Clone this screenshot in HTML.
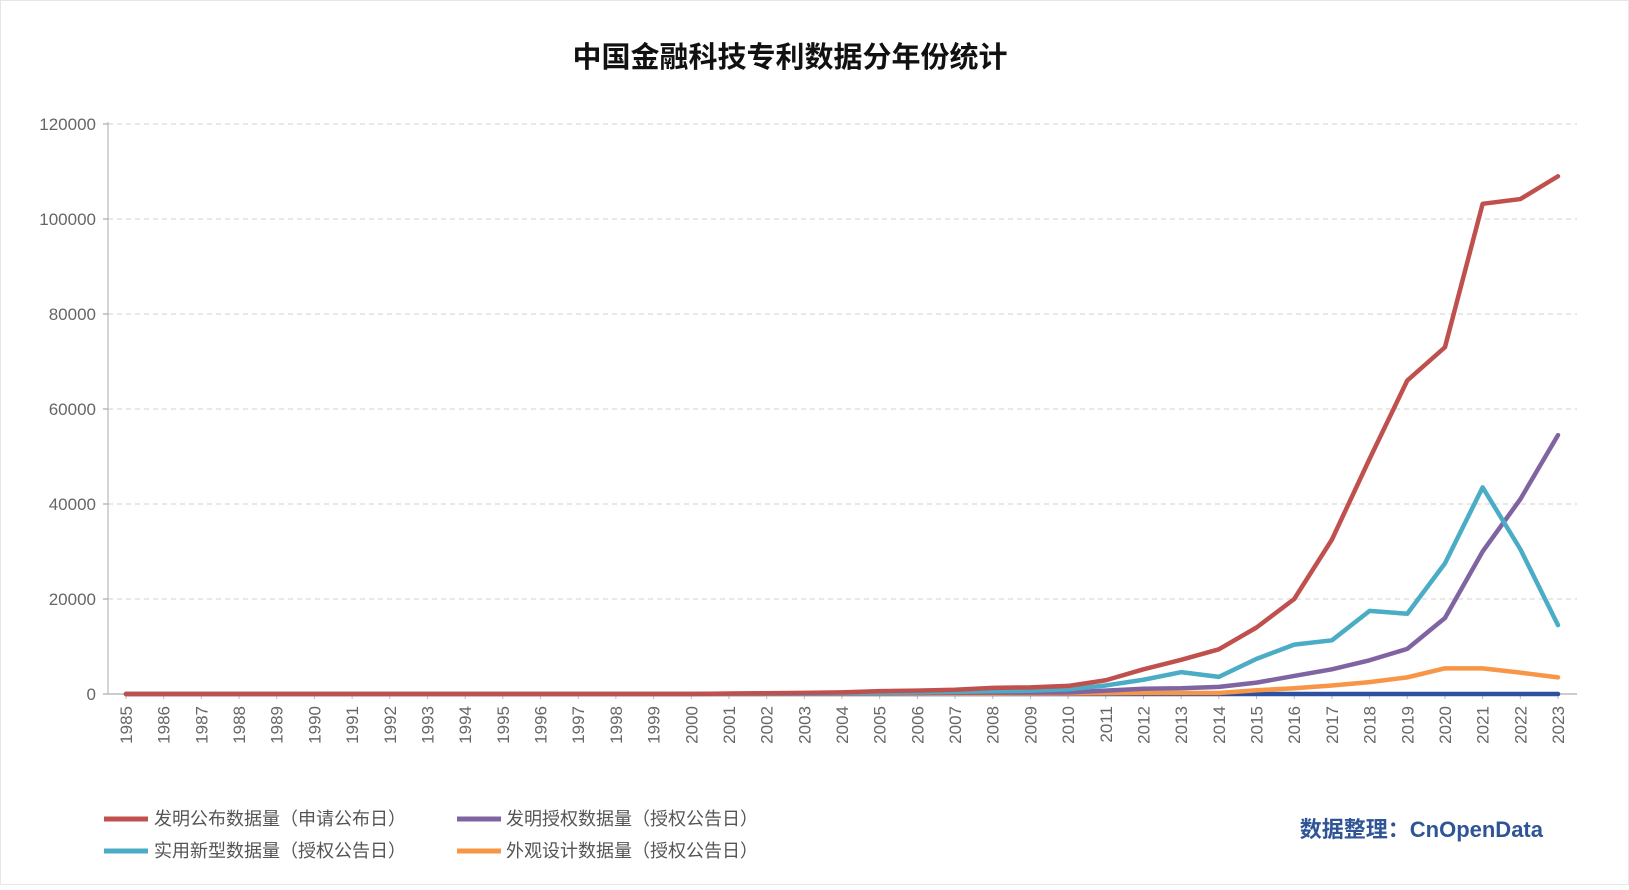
<!DOCTYPE html>
<html><head><meta charset="utf-8"><style>
html,body{margin:0;padding:0;background:#fff;}
body{width:1629px;height:885px;overflow:hidden;font-family:"Liberation Sans","Noto Sans CJK SC",sans-serif;}
svg text{font-family:"Liberation Sans","Noto Sans CJK SC",sans-serif;}
</style></head><body>
<svg id="chart" width="1629" height="885" xmlns="http://www.w3.org/2000/svg">
<rect x="0.5" y="0.5" width="1628" height="884" fill="#fff" stroke="#e6e6e6"/>
<text x="790" y="67" text-anchor="middle" font-size="29" font-weight="bold" fill="#111">中国金融科技专利数据分年份统计</text>
<g id="grid"></g><g id="axes"></g><g id="series"></g>
<g font-size="18" fill="#555">
<g><line x1="104" y1="819" x2="148" y2="819" stroke="#c0504d" stroke-width="5"/><text x="154" y="825">发明公布数据量（申请公布日）</text></g>
<g><line x1="457" y1="819" x2="501" y2="819" stroke="#8064a2" stroke-width="5"/><text x="506" y="825">发明授权数据量（授权公告日）</text></g>
<g><line x1="104" y1="851" x2="148" y2="851" stroke="#4bacc6" stroke-width="5"/><text x="154" y="857">实用新型数据量（授权公告日）</text></g>
<g><line x1="457" y1="851" x2="501" y2="851" stroke="#f79646" stroke-width="5"/><text x="506" y="857">外观设计数据量（授权公告日）</text></g>
</g>
<text x="1543" y="837" text-anchor="end" font-size="22" font-weight="bold" fill="#2f5597">数据整理：CnOpenData</text>
</svg>
<script>
const years = [];
for (let y = 1985; y <= 2023; y++) years.push(String(y));
const yTicks = [0, 20000, 40000, 60000, 80000, 100000, 120000];
const invPub = [0,0,0,0,0,0,0,0,0,0,0,0,0,0,0,0,100,150,250,350,600,700,900,1300,1400,1700,2900,5200,7200,9400,14000,20000,32500,49500,66000,73000,103200,104200,109000];
const invGrant = [0,0,0,0,0,0,0,0,0,0,0,0,0,0,0,0,20,40,60,100,150,200,250,300,300,350,700,1100,1200,1500,2400,3800,5200,7100,9500,16000,30000,41000,54500];
const utility = [0,0,0,0,0,0,0,0,0,0,0,0,0,0,0,0,50,80,120,180,250,350,450,600,700,1000,1800,3000,4600,3600,7400,10400,11300,17500,16900,27500,43500,30500,14500];
const design = [0,0,0,0,0,0,0,0,0,0,0,0,0,0,0,0,0,0,10,20,30,40,50,60,80,100,150,200,200,200,800,1200,1800,2500,3500,5400,5400,4500,3500];
const other = years.map(() => 0);

const NS = "http://www.w3.org/2000/svg";
const L = 108, R = 1577, Y0 = 694, Y1 = 124, X0 = 126, XN = 1558;
const yMax = 120000;
function xs(i){ return X0 + (XN - X0) * i / (years.length - 1); }
function ys(v){ return Y0 - (Y0 - Y1) * v / yMax; }
function mk(tag, attrs, parent){ const e = document.createElementNS(NS, tag); for (const k in attrs) e.setAttribute(k, attrs[k]); parent.appendChild(e); return e; }
const grid = document.getElementById('grid'), axes = document.getElementById('axes'), ser = document.getElementById('series');
yTicks.forEach(t => {
  const y = ys(t);
  if (t > 0) {
    const g = mk('line', {x1: L, x2: R, y1: y, y2: y, stroke: '#d0d0d0', 'stroke-dasharray': '5,4'}, grid);
    
    
  }
  mk('line', {x1: L - 5, x2: L, y1: y, y2: y, stroke: '#999'}, axes);
  const tx = mk('text', {x: L - 12, y: y + 6, 'text-anchor': 'end', 'font-size': 17, fill: '#666'}, axes);
  tx.textContent = t;
  
  
});
mk('line', {x1: L, x2: L, y1: Y1 - 2, y2: Y0, stroke: '#aaa'}, axes);
mk('line', {x1: L, x2: R, y1: Y0, y2: Y0, stroke: '#ccc', 'stroke-width': 2}, axes);
years.forEach((yr, i) => {
  const x = xs(i);
  mk('line', {x1: x, x2: x, y1: Y0, y2: Y0 + 5, stroke: '#bbb'}, axes);
  const tx = mk('text', {x: 0, y: 0, 'text-anchor': 'end', 'font-size': 17, fill: '#666', transform: `translate(${x + 6},${Y0 + 12}) rotate(-90)`}, axes);
  tx.textContent = yr;
  
  
});
const series = [[other, '#2f4f9f', 'series-other'], [design, '#f79646', 'series-design'], [invGrant, '#8064a2', 'series-invention-grant'], [utility, '#4bacc6', 'series-utility-model'], [invPub, '#c0504d', 'series-invention-publication']];
series.forEach(([d, c, n]) => {
  const p = mk('polyline', {points: d.map((v, i) => xs(i) + ',' + ys(v)).join(' '), fill: 'none', stroke: c, 'stroke-width': 4.5, 'stroke-linejoin': 'round', 'stroke-linecap': 'round'}, ser);
  
  
});
</script>
</body></html>
